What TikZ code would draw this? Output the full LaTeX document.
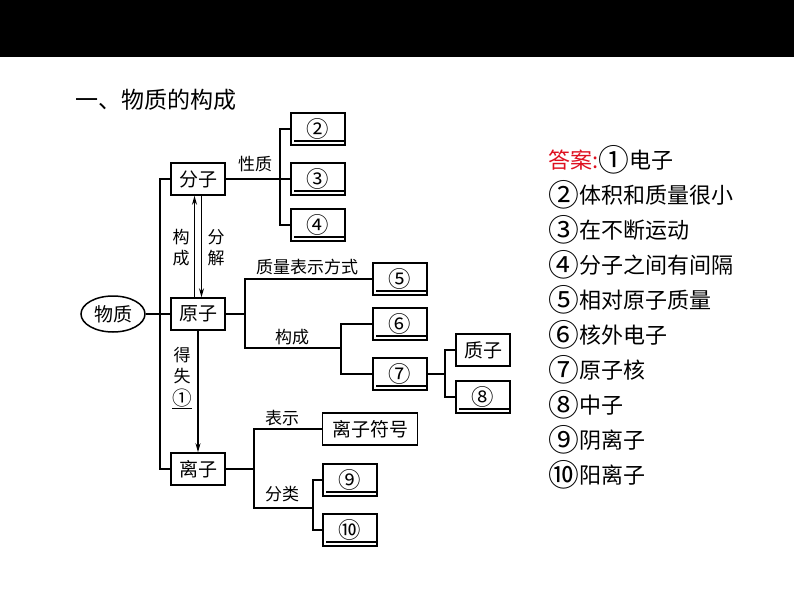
\documentclass[tikz,border=0pt]{standalone}
\usepackage{fontspec}
\newfontfamily\cjk{Noto Sans CJK SC}
\usetikzlibrary{shapes.geometric, arrows.meta, positioning}
\definecolor{ansred}{RGB}{222,16,32}
\newcommand\circnum[1]{\raisebox{-0.14em}{\fontsize{1.4em}{1em}\selectfont #1}}
\tikzset{
    box/.style={rectangle, draw=black, line width=1.5pt, minimum width=54pt, minimum height=32pt, inner sep=2pt, font=\cjk\fontsize{19}{21}\selectfont},
    blank/.style={box, font=\cjk\fontsize{16}{18}\selectfont, path picture={\draw[line width=1.2pt] ([shift={(3pt,4pt)}]path picture bounding box.south west) -- ([shift={(-1pt,4pt)}]path picture bounding box.south east);}},
    tag/.style={font=\cjk\fontsize{17}{21}\selectfont, inner sep=1pt},
    link/.style={line width=1.2pt},
    answer/.style={anchor=west, font=\cjk\fontsize{22}{24}\selectfont, inner sep=0pt}
}

\begin{document}
\begin{tikzpicture}[x=1pt, y=-1pt]
            \useasboundingbox (0,0) rectangle (794,596);
            % Header bar and title
            \fill[black] (0,0) rectangle (794,57);
            \node[anchor=west, font=\cjk\fontsize{23}{25}\selectfont] (title) at (72,100) {一、物质的构成};

            % Main nodes
            \node[draw, ellipse, line width=1.5pt, minimum width=64pt, minimum height=36pt, font=\cjk\fontsize{19}{21}\selectfont] (wuzhi) at (113,314) {物质};
            \node[box] (fenzi) at (198,179) {分子};
            \node[box] (yuanzi) at (198,314) {原子};
            \node[box] (lizi) at (198,469) {离子};

            % Blanks and leaves
            \node[blank] (b2) at (318,129) {\circnum{②}};
            \node[blank] (b3) at (318,179) {\circnum{③}};
            \node[blank] (b4) at (318,225) {\circnum{④}};
            \node[blank] (b5) at (400,279) {\circnum{⑤}};
            \node[blank] (b6) at (400,324) {\circnum{⑥}};
            \node[blank] (b7) at (400,374) {\circnum{⑦}};
            \node[box] (zhizi) at (483,350) {质子};
            \node[blank] (b8) at (483,397) {\circnum{⑧}};
            \node[box, minimum width=95pt] (fuhao) at (370,429) {离子符号};
            \node[blank] (b9) at (350,480) {\circnum{⑨}};
            \node[blank] (b10) at (350,530) {\circnum{⑩}};

            % Forks
            \coordinate (trunk) at (160,314);
            \coordinate (fzfork) at (280,179);
            \coordinate (yzfork) at (245,314);
            \coordinate (gouc) at (341,348);
            \coordinate (hefork) at (445,374);
            \coordinate (lzfork) at (254,469);
            \coordinate (fenlei) at (313,508);

            % Connectors
            \draw[link] (wuzhi.east) -- (trunk) -- (yuanzi.west);
            \draw[link] (fenzi.west) -| (trunk) |- (lizi.west);
            \draw[link] (fenzi.east) -- (fzfork) -- (b3.west);
            \draw[link] (b2.west) -| (fzfork) |- (b4.west);
            \draw[link] (yuanzi.east) -- (yzfork);
            \draw[link] (b5.west) -| (yzfork) |- (gouc);
            \draw[link] (b6.west) -| (gouc) |- (b7.west);
            \draw[link] (b7.east) -- (hefork);
            \draw[link] (zhizi.west) -| (hefork) |- (b8.west);
            \draw[link] (lizi.east) -- (lzfork);
            \draw[link] (fuhao.west) -| (lzfork) |- (fenlei);
            \draw[link] (b9.west) -| (fenlei) |- (b10.west);

            % Arrows between particles
            \draw[link, -{Stealth[length=9pt, width=5pt]}] ([xshift=-3.5pt]yuanzi.north) -- ([xshift=-3.5pt]fenzi.south);
            \draw[link, -{Stealth[length=9pt, width=5pt]}] ([xshift=3.5pt]fenzi.south) -- ([xshift=3.5pt]yuanzi.north);
            \draw[link, -{Stealth[length=9pt, width=5pt]}] (yuanzi.south) -- (lizi.north);

            % Labels
            \node[tag, align=center] (goucheng) at (181,248) {构\\成};
            \node[tag, align=center] (fenjie) at (216,248) {分\\解};
            \node[tag, align=center] (deshi) at (182,378) {得\\失\\\underline{\fontsize{14}{15}\selectfont\circnum{①}}};
            \node[tag] (xingzhi) at (255,164) {性质};
            \node[tag] (zhiliang) at (307,267) {质量表示方式};
            \node[tag] (gouchengb) at (292,337) {构成};
            \node[tag] (biaoshi) at (282,418) {表示};
            \node[tag] (fenleit) at (282,494) {分类};

            % Answers
            \node[answer] (a1) at (548,160) {\textcolor{ansred}{答案:}\circnum{①}电子};
            \foreach \num/\txt [count=\i from 2] in {②/体积和质量很小, ③/在不断运动, ④/分子之间有间隔, ⑤/相对原子质量, ⑥/核外电子, ⑦/原子核, ⑧/中子, ⑨/阴离子, ⑩/阳离子}
                \node[answer] (a\i) at (548,125+35*\i) {\circnum{\num}\txt};
        \end{tikzpicture}
\end{document}
